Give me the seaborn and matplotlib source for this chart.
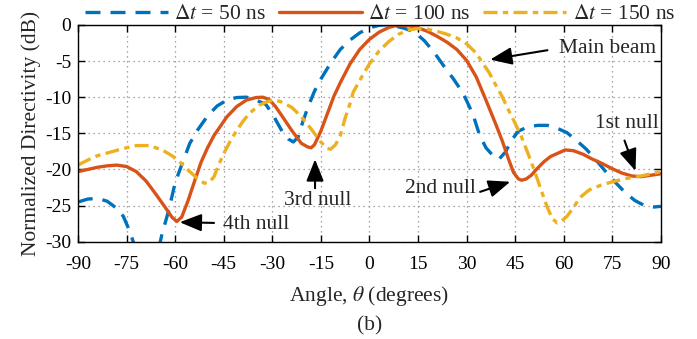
import numpy as np
import pandas as pd
import matplotlib
matplotlib.use("Agg")
import matplotlib.pyplot as plt
import seaborn as sns

# ---------------- data ----------------
ang50 = [-90, -87, -84, -81, -78, -76, -74, -72, -70, -68.5,
         -67, -65.5, -64, -62, -60, -58, -55.5, -53, -50, -47,
         -44, -41, -38, -35, -32, -30, -27, -25, -23.5, -22,
         -20.5, -19, -17, -15, -12, -9, -6, -3, 0, 3,
         5, 8, 11, 14, 17, 20, 23, 26, 29, 32,
         34, 36, 38, 40, 42, 44, 46, 49, 52, 55,
         58, 61, 64, 67, 70, 73, 76, 79, 82, 85,
         88, 90]
db50 = [-24.5, -24.1, -24.0, -24.4, -25.4, -26.5, -28.6, -31.3, -33.8, -35.0,
        -34.2, -31.8, -28.8, -25.7, -21.8, -19.4, -16.4, -14.5, -12.6, -11.2,
        -10.4, -10.05, -10.0, -10.4, -11.0, -12.3, -14.7, -15.8, -16.2, -15.5,
        -13.3, -11.4, -9.2, -7.5, -5.3, -3.4, -2.1, -1.1, -0.4, -0.05,
        0.0, -0.15, -0.5, -1.0, -2.2, -3.8, -5.7, -7.5, -9.5, -12.4,
        -15.2, -17.0, -18.0, -18.6, -17.6, -15.9, -14.7, -14.1, -13.9, -13.9,
        -14.3, -14.9, -16.0, -17.2, -18.7, -20.3, -21.8, -23.2, -24.3, -25.0,
        -25.2, -25.1]

ang100 = [-90, -87, -84, -81, -78, -75, -72, -69, -66, -63,
          -61, -59.5, -58, -56, -54, -52, -50, -48, -46, -44,
          -41, -38, -35, -33, -31, -29, -27, -24, -21, -19,
          -18, -17, -15, -13, -11, -9, -6, -3, 0, 3,
          6, 9, 12, 15, 18, 21, 24, 27, 30, 33,
          36, 39, 41, 43, 44.5, 46, 47, 48.5, 50, 52,
          54, 56, 58, 60.5, 63, 66, 69, 72, 75, 78,
          81, 84, 87, 90]
db100 = [-20.3, -20.0, -19.7, -19.5, -19.4, -19.6, -20.3, -21.6, -23.4, -25.3,
         -26.6, -27.2, -26.6, -24.3, -21.6, -19.0, -17.0, -15.3, -14.0, -12.7,
         -11.3, -10.4, -10.05, -10.0, -10.3, -11.3, -12.6, -14.6, -16.4, -16.9,
         -17.0, -16.6, -14.7, -12.3, -9.9, -8.0, -5.4, -3.4, -2.0, -1.0,
         -0.35, 0.0, -0.1, -0.4, -0.9, -1.6, -2.4, -3.4, -4.9, -7.2,
         -10.4, -13.7, -16.0, -18.6, -20.4, -21.3, -21.5, -21.3, -20.8, -19.8,
         -18.9, -18.2, -17.8, -17.3, -17.4, -17.9, -18.6, -19.2, -19.9, -20.5,
         -20.9, -21.0, -20.8, -20.6]

ang150 = [-90, -87, -84, -80, -76, -72, -68, -64, -61, -58,
          -56, -53, -51, -49.5, -48, -46.5, -45, -43, -41, -39,
          -37, -34, -31.5, -29.5, -27.5, -24, -21, -18, -15, -13,
          -12, -10.5, -9, -7.5, -6, -5, -2, 0, 3, 6,
          9, 12, 15, 18, 21, 24, 27, 30, 33, 35,
          37, 39, 41, 43, 45, 47, 49, 51, 53, 55,
          56.5, 58, 59.5, 61, 63, 65, 68, 72, 76, 80,
          84, 87, 90]
db150 = [-19.4, -18.7, -18.1, -17.6, -17.1, -16.7, -16.7, -17.3, -18.1, -19.2,
         -20.1, -21.3, -21.9, -21.8, -21.0, -19.3, -17.8, -16.1, -14.6, -13.3,
         -12.2, -11.1, -10.6, -10.4, -10.6, -11.4, -12.7, -14.4, -16.2, -17.1,
         -17.2, -16.6, -15.3, -12.9, -10.9, -9.3, -6.9, -5.4, -3.6, -2.3,
         -1.3, -0.7, -0.5, -0.6, -0.9, -1.3, -1.8, -2.6, -3.9, -5.3,
         -6.6, -8.3, -9.9, -11.8, -13.6, -15.5, -17.8, -20.2, -22.8, -25.3,
         -26.8, -27.4, -27.1, -26.5, -25.3, -23.9, -22.8, -22.1, -21.6, -21.2,
         -20.9, -20.6, -20.3]

labels = [r"$\Delta t$ = 50 ns", r"$\Delta t$ = 100 ns", r"$\Delta t$ = 150 ns"]
xticks = list(range(-90, 91, 15))
yticks = list(range(-30, 1, 5))

# annotations: (text, text_xy, arrow_tail_xy, arrow_tip_xy)
notes = [
    ("Main beam", (73.5, -3.3), (55.0, -3.5), (37.3, -4.8)),
    ("1st null", (79.5, -13.7), (78.8, -16.0), (82.2, -20.2)),
    ("2nd null", (22.0, -22.6), (34.2, -23.1), (43.5, -21.7)),
    ("3rd null", (-16.0, -24.3), (-16.8, -22.6), (-16.8, -18.6)),
    ("4th null", (-35.0, -27.6), (-48.0, -27.4), (-58.6, -27.3)),
]

# ---------------- styling ----------------
sns.set_theme(style="white")
plt.rcParams["font.family"] = ["Liberation Serif", "DejaVu Serif"]
plt.rcParams["mathtext.fontset"] = "stix"
plt.rcParams["axes.unicode_minus"] = False

colors = ["#0072BD", "#D95319", "#EDB120"]
styles = [(0, (4.5, 3.0)), "-", (0, (4.2, 1.6, 1.6, 1.6))]
lw = 2.4
FS = 15.5
TFS = 14

fig = plt.figure(figsize=(6.97, 3.39), dpi=100)
ax = fig.add_axes([0.112, 0.287, 0.836, 0.6395])

series = [(ang50, db50), (ang100, db100), (ang150, db150)]
for (a, d), lab, c, ls in zip(series, labels, colors, styles):
    df = pd.DataFrame({"angle": a, "dB": d})
    sns.lineplot(data=df, x="angle", y="dB", ax=ax, color=c, lw=lw,
                 linestyle=ls, label=lab, legend=False, sort=True,
                 estimator=None)

ax.set_xlim(-90, 90)
ax.set_ylim(-30, 0)
ax.set_xticks(xticks)
ax.set_yticks(yticks)
ax.set_xticklabels([str(t) for t in xticks], fontsize=TFS)
ax.set_yticklabels([str(t) for t in yticks], fontsize=TFS)
ax.tick_params(direction="in", length=5, width=1, top=True, right=True,
               bottom=True, left=True, colors="black")
ax.tick_params(axis="x", pad=10)
ax.tick_params(axis="y", pad=5)
ax.grid(True, color="#8a8a8a", linestyle=(0, (1, 3)), linewidth=0.9)
ax.set_axisbelow(True)
for s in ax.spines.values():
    s.set_color("black")
    s.set_linewidth(1.0)

ax.set_xlabel(r"Angle, $\theta$ (degrees)", fontsize=FS, labelpad=8)
ax.set_ylabel("Normalized Directivity (dB)", fontsize=FS, labelpad=3)
fig.text(0.531, 0.040, "(b)", fontsize=FS, ha="center", va="center")

for txt, txy, tail, tip in notes:
    ax.text(txy[0], txy[1], txt, fontsize=FS, ha="center", va="center")
    ax.annotate("", xy=tip, xytext=tail,
                arrowprops=dict(arrowstyle="-|>,head_length=0.7,head_width=0.28",
                                color="black", lw=1.5, mutation_scale=19,
                                shrinkA=0, shrinkB=0))

handles = ax.get_lines()[:3]
fig.legend(handles, labels, loc="center", bbox_to_anchor=(0.545, 0.958),
           ncol=3, frameon=False, fontsize=FS, handlelength=3.85,
           handletextpad=0.3, columnspacing=0.6, borderaxespad=0)

fig.savefig("out.png", dpi=100)
